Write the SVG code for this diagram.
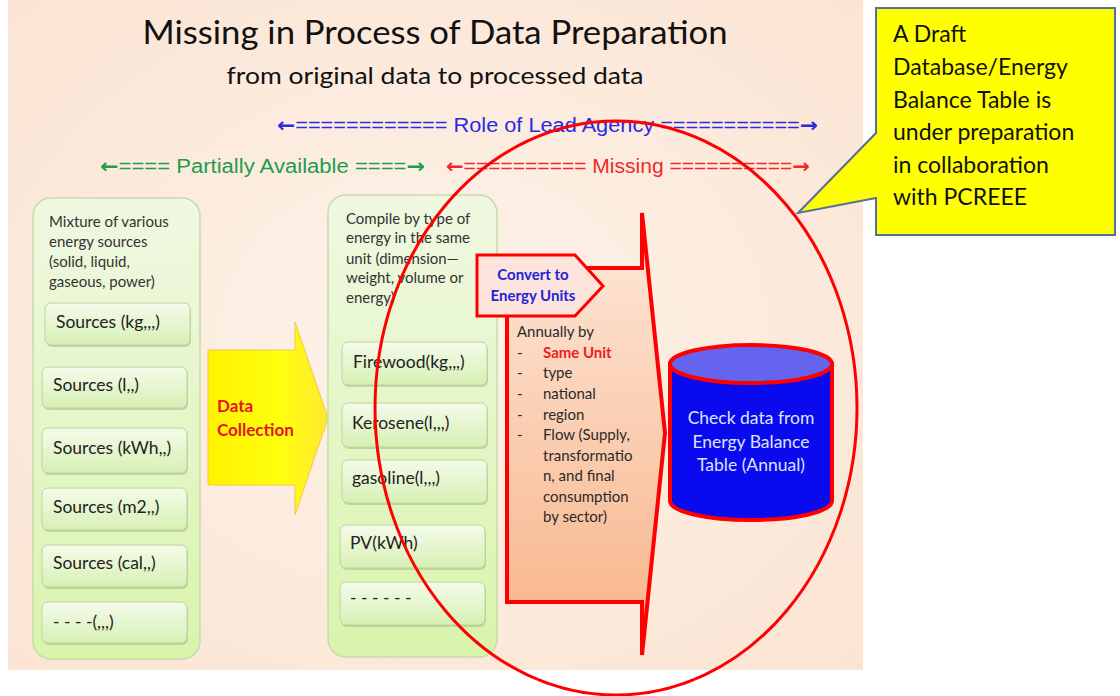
<svg xmlns="http://www.w3.org/2000/svg" width="1120" height="696" viewBox="0 0 1120 696">
<defs>
<radialGradient id="bg" cx="0.5" cy="0.5" r="0.7">
<stop offset="0" stop-color="#FDF3EA"/>
<stop offset="1" stop-color="#FBE4D3"/>
</radialGradient>
<linearGradient id="cont" x1="0" y1="0" x2="0" y2="1">
<stop offset="0" stop-color="#F0F8E2"/>
<stop offset="1" stop-color="#D9F4AC"/>
</linearGradient>
<linearGradient id="box" x1="0" y1="0" x2="0" y2="1">
<stop offset="0" stop-color="#F4FBEA"/>
<stop offset="1" stop-color="#D7F0B4"/>
</linearGradient>
<linearGradient id="yel" x1="0" y1="0" x2="1" y2="0">
<stop offset="0" stop-color="#FFF200"/>
<stop offset="0.6" stop-color="#FFFF10"/>
<stop offset="1" stop-color="#FFE830"/>
</linearGradient>
<linearGradient id="peach" x1="0" y1="0" x2="0" y2="1">
<stop offset="0" stop-color="#FDE9DB"/>
<stop offset="1" stop-color="#F8B287"/>
</linearGradient>
<style>
.cal{font-family:Lato,"Liberation Sans",sans-serif}
.narrow{font-family:"Liberation Sans",Arial,sans-serif;font-size:20px}
.arw{font-family:"DejaVu Sans",sans-serif;font-weight:bold}
.cont{fill:url(#cont);stroke:#C6DCA8;stroke-width:1.5}
.box{fill:url(#box);stroke:#BCD49E;stroke-width:1}
.shadow{fill:#A8BE8E;opacity:0.6}
.bt{font-family:Lato,"Liberation Sans",sans-serif;font-size:17.5px;fill:#222}
.hd{font-family:Lato,"Liberation Sans",sans-serif;font-size:15px;fill:#333}
.li{font-family:Lato,"Liberation Sans",sans-serif;font-size:15px}
.red{stroke:#FF0000;fill:none}
</style>
</defs>
<rect x="8" y="0" width="855" height="670" fill="url(#bg)"/>
<g id="title">
<text class="cal" x="435" y="44" text-anchor="middle" font-size="33" fill="#111" textLength="585" lengthAdjust="spacingAndGlyphs">Missing in Process of Data Preparation</text>
<text class="cal" x="435" y="84" text-anchor="middle" font-size="24" fill="#111" textLength="417" lengthAdjust="spacingAndGlyphs">from original data to processed data</text>
</g>
<g id="role-lines">
<text class="narrow" x="277" y="132" fill="#2A2AE0" textLength="541" lengthAdjust="spacingAndGlyphs"><tspan class="arw">←</tspan>============ Role of Lead Agency ===========<tspan class="arw">→</tspan></text>
<text class="narrow" x="100" y="173" fill="#1E9E4A" textLength="325" lengthAdjust="spacingAndGlyphs"><tspan class="arw">←</tspan>==== Partially Available ====<tspan class="arw">→</tspan></text>
<text class="narrow" x="446" y="173" fill="#EE2A2A" textLength="364" lengthAdjust="spacingAndGlyphs"><tspan class="arw">←</tspan>========== Missing ==========<tspan class="arw">→</tspan></text>
</g>
<g id="original-data">
<rect class="cont" x="33" y="198" width="167" height="461" rx="18"/>
<text class="hd" x="49" y="227">Mixture of various</text>
<text class="hd" x="49" y="247">energy sources</text>
<text class="hd" x="49" y="267">(solid, liquid,</text>
<text class="hd" x="49" y="287">gaseous, power)</text>
<rect class="shadow" x="46" y="305" width="145" height="42" rx="6"/>
<rect class="box" x="45" y="303" width="145" height="42" rx="6"/>
<text class="bt" x="56" y="328">Sources (kg,,,)</text>
<rect class="shadow" x="43" y="369" width="145" height="41" rx="6"/>
<rect class="box" x="42" y="367" width="145" height="41" rx="6"/>
<text class="bt" x="53" y="391">Sources (l,,)</text>
<rect class="shadow" x="43" y="430" width="145" height="45" rx="6"/>
<rect class="box" x="42" y="428" width="145" height="45" rx="6"/>
<text class="bt" x="53" y="454">Sources (kWh,,)</text>
<rect class="shadow" x="43" y="490" width="145" height="42" rx="6"/>
<rect class="box" x="42" y="488" width="145" height="42" rx="6"/>
<text class="bt" x="53" y="513">Sources (m2,,)</text>
<rect class="shadow" x="43" y="547" width="145" height="42" rx="6"/>
<rect class="box" x="42" y="545" width="145" height="42" rx="6"/>
<text class="bt" x="53" y="569">Sources (cal,,)</text>
<rect class="shadow" x="43" y="604" width="145" height="41" rx="6"/>
<rect class="box" x="42" y="602" width="145" height="41" rx="6"/>
<text class="bt" x="53" y="628">- - - -(,,,)</text>
</g>
<g id="data-collection">
<path d="M208,350 L295,350 L295,322 L328,418 L295,515 L295,485 L208,485 Z" fill="url(#yel)" stroke="#F2C84A" stroke-width="1"/>
<text class="cal" x="217" y="412" font-size="17" font-weight="bold" fill="#E8141B">Data</text>
<text class="cal" x="217" y="436" font-size="17" font-weight="bold" fill="#E8141B">Collection</text>
</g>
<g id="compiled-data">
<rect class="cont" x="328" y="195" width="169" height="462" rx="18"/>
<text class="hd" x="346" y="224">Compile by type of</text>
<text class="hd" x="346" y="243">energy in the same</text>
<text class="hd" x="346" y="264">unit (dimension—</text>
<text class="hd" x="346" y="283">weight, volume or</text>
<text class="hd" x="346" y="303">energy)</text>
<rect class="shadow" x="343" y="344" width="145" height="43" rx="6"/>
<rect class="box" x="342" y="342" width="145" height="43" rx="6"/>
<text class="bt" x="353" y="368">Firewood(kg,,,)</text>
<rect class="shadow" x="343" y="405" width="145" height="44" rx="6"/>
<rect class="box" x="342" y="403" width="145" height="44" rx="6"/>
<text class="bt" x="352" y="429">Kerosene(l,,,)</text>
<rect class="shadow" x="343" y="462" width="145" height="43" rx="6"/>
<rect class="box" x="342" y="460" width="145" height="43" rx="6"/>
<text class="bt" x="352" y="484">gasoline(l,,,)</text>
<rect class="shadow" x="341" y="527" width="145" height="43" rx="6"/>
<rect class="box" x="340" y="525" width="145" height="43" rx="6"/>
<text class="bt" x="350" y="549">PV(kWh)</text>
<rect class="shadow" x="341" y="584" width="145" height="43" rx="6"/>
<rect class="box" x="340" y="582" width="145" height="43" rx="6"/>
<text class="bt" x="350" y="604">- - - - - -</text>
</g>
<g id="annual-process">
<path d="M507,268 L642,268 L642,213 L665,433 L642,655 L642,602 L507,602 Z" fill="url(#peach)" stroke="#FF0000" stroke-width="4" stroke-linejoin="miter"/>
<g class="li" fill="#2a2a2a">
<text x="517" y="337">Annually by</text>
<text x="517" y="358">-</text>
<text x="543" y="358" font-weight="bold" style="fill:#EE1C1C">Same Unit</text>
<text x="517" y="378">-</text>
<text x="543" y="378">type</text>
<text x="517" y="399">-</text>
<text x="543" y="399">national</text>
<text x="517" y="420">-</text>
<text x="543" y="420">region</text>
<text x="517" y="440">-</text>
<text x="543" y="440">Flow (Supply,</text>
<text x="543" y="461">transformatio</text>
<text x="543" y="481">n, and final</text>
<text x="543" y="502">consumption</text>
<text x="543" y="522">by sector)</text>
</g>
</g>
<g id="convert">
<path d="M477,255 L575,255 L603,286 L575,316 L477,316 Z" fill="#FCE4DC" stroke="#FF0000" stroke-width="3"/>
<text class="cal" x="533" y="280" text-anchor="middle" font-size="15" font-weight="bold" fill="#2323D8">Convert to</text>
<text class="cal" x="533" y="301" text-anchor="middle" font-size="15" font-weight="bold" fill="#2323D8">Energy Units</text>
</g>
<g id="energy-balance">
<path d="M670,364 L670,501 A81,19 0 0 0 832,501 L832,364 Z" fill="#0A0AEE" stroke="#FF0000" stroke-width="4"/>
<ellipse cx="751" cy="364" rx="81" ry="19" fill="#6464EE" stroke="#FF0000" stroke-width="4"/>
<text class="cal" x="751" y="424" text-anchor="middle" font-size="17.5" fill="#DCE4FF">Check data from</text>
<text class="cal" x="751" y="448" text-anchor="middle" font-size="17.5" fill="#DCE4FF">Energy Balance</text>
<text class="cal" x="751" y="471" text-anchor="middle" font-size="17.5" fill="#DCE4FF">Table (Annual)</text>
</g>
<g id="connectors">
<ellipse class="red" cx="616" cy="408" rx="241" ry="287" stroke-width="3"/>
</g>
<g id="callout">
<path d="M876,8 L1115,8 L1115,235 L876,235 L876,198 L798,213 L876,133 Z" fill="#FFFF00" stroke="#56709A" stroke-width="2" stroke-linejoin="miter"/>
<g class="cal" font-size="23" fill="#111">
<text x="893" y="42">A Draft</text>
<text x="893" y="75">Database/Energy</text>
<text x="893" y="108">Balance Table is</text>
<text x="893" y="140">under preparation</text>
<text x="893" y="173">in collaboration</text>
<text x="893" y="205">with PCREEE</text>
</g>
</g>
</svg>
